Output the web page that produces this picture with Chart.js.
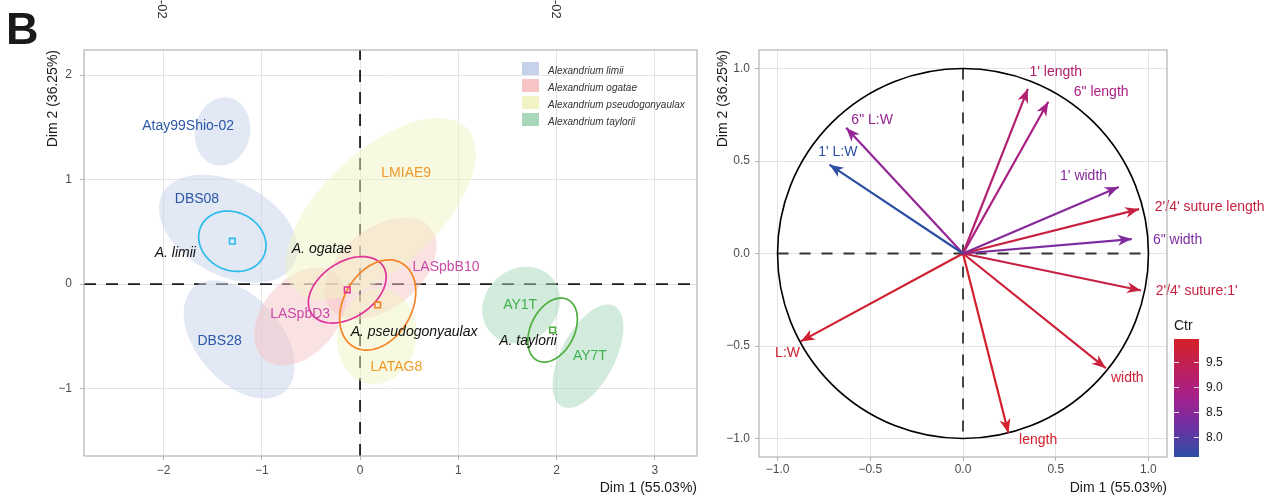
<!DOCTYPE html>
<html>
<head>
<meta charset="utf-8">
<script src="https://cdn.jsdelivr.net/npm/chart.js@4.4.1/dist/chart.umd.min.js"></script>
<style>
  body { margin: 0; background: #fff; width: 1281px; height: 503px; overflow: hidden; }
  #left { position: absolute; left: 0; top: 0; }
  #right { position: absolute; left: 705px; top: 0; }
</style>
</head>
<body>
<canvas id="left" width="705" height="503"></canvas>
<canvas id="right" width="576" height="503"></canvas>
<script>
// ---- individuals (strains), left panel ----
var strainNames = ['Atay99Shio-02', 'DBS08', 'DBS28', 'LASpbD3', 'LASpbB10', 'LMIAE9', 'LATAG8', 'AY1T', 'AY7T'];
var strainSpecies = [0, 0, 0, 1, 1, 2, 2, 3, 3];
var strainX = [-1.40, -1.34, -1.23, -0.61, 0.21, 0.21, 0.17, 1.64, 2.32];
var strainY = [1.46, 0.53, -0.53, -0.31, 0.15, 0.72, -0.50, -0.20, -0.69];
var strainEllA = [0.33, 0.75, 0.68, 0.55, 0.64, 1.17, 0.46, 0.41, 0.55];
var strainEllB = [0.28, 0.45, 0.42, 0.37, 0.39, 0.57, 0.40, 0.35, 0.27];
var strainEllAngle = [75, -25, -45, 45, 35, 40, 75, 30, 60];
var strainLabelX = [-1.75, -1.66, -1.43, -0.61, 0.875, 0.47, 0.37, 1.63, 2.34];
var strainLabelY = [1.51, 0.81, -0.55, -0.29, 0.165, 1.06, -0.79, -0.20, -0.69];

// ---- species groups ----
var speciesNames = ['Alexandrium limii', 'Alexandrium ogatae', 'Alexandrium pseudogonyaulax', 'Alexandrium taylorii'];
var speciesShort = ['A. limii', 'A. ogatae', 'A. pseudogonyaulax', 'A. taylorii'];
var speciesX = [-1.30, -0.13, 0.18, 1.96];
var speciesY = [0.41, -0.055, -0.20, -0.44];
var speciesEllA = [0.35, 0.43, 0.47, 0.33];
var speciesEllB = [0.28, 0.27, 0.34, 0.22];
var speciesEllAngle = [-20, 30, 55, 60];
var speciesLabelX = [-1.88, -0.39, 0.55, 1.71];
var speciesLabelY = [0.30, 0.33, -0.46, -0.55];

var leftXTicks = [-2, -1, 0, 1, 2, 3];
var leftYTicks = [-1, 0, 1, 2];

// ---- variables, right panel ----
var varNames = ["1' L:W", '6" L:W', "1' length", '6" length', "1' width", "2'/4' suture length", '6" width', "2'/4' suture:1'", 'width', 'length', 'L:W'];
var varX = [-0.72, -0.63, 0.35, 0.46, 0.84, 0.95, 0.91, 0.96, 0.77, 0.245, -0.875];
var varY = [0.48, 0.68, 0.89, 0.82, 0.36, 0.24, 0.078, -0.20, -0.62, -0.97, -0.475];
var varCtr = [7.55, 8.6, 9.15, 8.9, 8.45, 9.65, 8.35, 9.65, 9.75, 9.9, 9.85];
var varLabelX = [-0.675, -0.49, 0.50, 0.745, 0.65, 1.33, 1.157, 1.26, 0.886, 0.405, -0.946];
var varLabelY = [0.548, 0.72, 0.98, 0.872, 0.418, 0.25, 0.072, -0.204, -0.674, -1.008, -0.539];

var rightTicks = [-1, -0.5, 0, 0.5, 1];
var ctrTicks = [8.0, 8.5, 9.0, 9.5];
var ctrMin = 7.6, ctrMax = 9.96;

// colours
var blobColors = [[198, 209, 234], [247, 197, 197], [242, 243, 196], [168, 216, 185]];
var speciesColors = ['#2DBDEB', '#E1329A', '#F68426', '#4CAF3E'];
var strainTextColors = ['#2D58A8', '#C94BA6', '#EF9A2C', '#3DB34D'];

Chart.defaults.font.family = "'Liberation Sans', Arial, Helvetica, sans-serif";

function minusSign(s) {
    return String(s).replace('-', '\u2212');
}

function ellipsePath(ctx, xs, ys, cx, cy, a, b, angle) {
    var th = angle * Math.PI / 180;
    ctx.beginPath();
    for (var k = 0; k <= 90; k++) {
        var t = k / 90 * 2 * Math.PI;
        var dx = a * Math.cos(t), dy = b * Math.sin(t);
        var px = xs.getPixelForValue(cx + dx * Math.cos(th) - dy * Math.sin(th));
        var py = ys.getPixelForValue(cy + dx * Math.sin(th) + dy * Math.cos(th));
        if (k == 0) ctx.moveTo(px, py); else ctx.lineTo(px, py);
    }
    ctx.closePath();
}

var ctrStops = [[7.6, [44, 79, 164]], [8.3, [120, 45, 160]], [8.8, [165, 32, 140]], [9.96, [213, 32, 38]]];
function ctrColor(v) {
    if (v <= ctrStops[0][0]) return 'rgb(' + ctrStops[0][1].join(',') + ')';
    for (var i = 1; i < ctrStops.length; i++) {
        if (v <= ctrStops[i][0]) {
            var t = (v - ctrStops[i - 1][0]) / (ctrStops[i][0] - ctrStops[i - 1][0]);
            var c0 = ctrStops[i - 1][1], c1 = ctrStops[i][1];
            return 'rgb(' + [0, 1, 2].map(function (j) { return Math.round(c0[j] + t * (c1[j] - c0[j])); }).join(',') + ')';
        }
    }
    return 'rgb(' + ctrStops[ctrStops.length - 1][1].join(',') + ')';
}

function axisOpts(ticks, fmt, tickPad, title, titlePad) {
    return {
        type: 'linear',
        afterBuildTicks: function (scale) { scale.ticks = ticks.map(function (v) { return { value: v }; }); },
        ticks: { color: '#4D4D4D', font: { size: 12 }, padding: tickPad, callback: fmt, maxRotation: 0 },
        grid: { color: '#E4E4E4', lineWidth: 1, tickLength: 4, tickColor: '#B3B3B3' },
        border: { display: false },
        title: { display: true, text: title, align: 'end', color: '#1A1A1A', font: { size: 14 }, padding: titlePad }
    };
}

function drawBorder(ctx, a) {
    ctx.save();
    ctx.strokeStyle = '#B3B3B3';
    ctx.lineWidth = 1.2;
    ctx.strokeRect(a.left, a.top, a.right - a.left, a.bottom - a.top);
    ctx.restore();
}

// ---------------- left panel ----------------
var leftDecor = {
    id: 'leftDecor',
    beforeDatasetsDraw: function (chart) {
        var ctx = chart.ctx, a = chart.chartArea, xs = chart.scales.x, ys = chart.scales.y;
        ctx.save();
        ctx.beginPath();
        ctx.rect(a.left, a.top, a.right - a.left, a.bottom - a.top);
        ctx.clip();
        // reference lines
        ctx.setLineDash([12, 10]);
        ctx.lineWidth = 1.8;
        ctx.strokeStyle = '#1A1A1A';
        ctx.beginPath();
        ctx.moveTo(a.left, ys.getPixelForValue(0));
        ctx.lineTo(a.right, ys.getPixelForValue(0));
        ctx.moveTo(xs.getPixelForValue(0), a.bottom);
        ctx.lineTo(xs.getPixelForValue(0), a.top);
        ctx.stroke();
        ctx.setLineDash([]);
        // strain ellipses
        for (var i = 0; i < strainNames.length; i++) {
            var c = blobColors[strainSpecies[i]];
            ellipsePath(ctx, xs, ys, strainX[i], strainY[i], strainEllA[i], strainEllB[i], strainEllAngle[i]);
            ctx.fillStyle = 'rgba(' + c.join(',') + ',0.5)';
            ctx.fill();
        }
        // species concentration ellipses
        ctx.lineWidth = 1.7;
        for (var s = 0; s < speciesNames.length; s++) {
            ellipsePath(ctx, xs, ys, speciesX[s], speciesY[s], speciesEllA[s], speciesEllB[s], speciesEllAngle[s]);
            ctx.strokeStyle = speciesColors[s];
            ctx.stroke();
        }
        ctx.restore();
    },
    afterDatasetsDraw: function (chart) {
        var ctx = chart.ctx, a = chart.chartArea, xs = chart.scales.x, ys = chart.scales.y;
        ctx.save();
        ctx.textAlign = 'center';
        ctx.textBaseline = 'middle';
        ctx.font = "14px 'Liberation Sans', Arial, sans-serif";
        for (var i = 0; i < strainNames.length; i++) {
            ctx.fillStyle = strainTextColors[strainSpecies[i]];
            ctx.fillText(strainNames[i], xs.getPixelForValue(strainLabelX[i]), ys.getPixelForValue(strainLabelY[i]));
        }
        ctx.font = "italic 14px 'Liberation Sans', Arial, sans-serif";
        ctx.fillStyle = '#111';
        for (var s = 0; s < speciesShort.length; s++) {
            ctx.fillText(speciesShort[s], xs.getPixelForValue(speciesLabelX[s]), ys.getPixelForValue(speciesLabelY[s]));
        }
        // legend
        ctx.textAlign = 'left';
        ctx.font = "italic 10px 'Liberation Sans', Arial, sans-serif";
        for (var k = 0; k < speciesNames.length; k++) {
            var ly = a.top + 12 + k * 17;
            ctx.fillStyle = 'rgb(' + blobColors[k].join(',') + ')';
            ctx.fillRect(a.left + 438, ly, 17, 13);
            ctx.fillStyle = '#333';
            ctx.fillText(speciesNames[k], a.left + 464, ly + 9);
        }
        ctx.restore();
        drawBorder(ctx, a);
        // panel tag and stray labels at the top
        ctx.save();
        ctx.fillStyle = '#1A1A1A';
        ctx.font = "bold 45px 'Liberation Sans', Arial, sans-serif";
        ctx.textBaseline = 'alphabetic';
        ctx.fillText('B', 6, 44);
        ctx.font = "13px 'Liberation Sans', Arial, sans-serif";
        ctx.fillStyle = '#333';
        [162, 556].forEach(function (px) {
            ctx.save();
            ctx.translate(px, 0);
            ctx.rotate(Math.PI / 2);
            ctx.textBaseline = 'middle';
            ctx.fillText('-02', 0, 0);
            ctx.restore();
        });
        ctx.restore();
    }
};

var leftX = axisOpts(leftXTicks, function (v) { return minusSign(v); }, 3, 'Dim 1 (55.03%)', { top: 0, bottom: 6 });
leftX.min = -2.81; leftX.max = 3.43; leftX.position = 'bottom';
leftX.afterFit = function (scale) { scale.height = 47; };
var leftY = axisOpts(leftYTicks, function (v) { return minusSign(v); }, 8, 'Dim 2 (36.25%)', { top: 45, bottom: 0 });
leftY.min = -1.645; leftY.max = 2.24; leftY.position = 'left';
leftY.afterFit = function (scale) { scale.width = 84; };

var leftChart = new Chart(document.getElementById('left'), {
    type: 'scatter',
    data: {
        datasets: [{
            label: 'centres',
            data: speciesX.map(function (v, i) { return { x: v, y: speciesY[i] }; }),
            pointStyle: 'rect',
            pointRadius: 4,
            pointBorderWidth: 1.6,
            pointBorderColor: speciesColors,
            pointBackgroundColor: 'rgba(0,0,0,0)'
        }]
    },
    options: {
        responsive: false,
        animation: false,
        layout: { padding: { top: 50, right: 8, left: 0, bottom: 0 } },
        plugins: { legend: { display: false }, tooltip: { enabled: false } },
        scales: { x: leftX, y: leftY }
    },
    plugins: [leftDecor]
});

// ---------------- right panel ----------------
var rightDecor = {
    id: 'rightDecor',
    beforeDatasetsDraw: function (chart) {
        var ctx = chart.ctx, xs = chart.scales.x, ys = chart.scales.y;
        var cx = xs.getPixelForValue(0), cy = ys.getPixelForValue(0);
        ctx.save();
        ctx.setLineDash([11, 11]);
        ctx.lineWidth = 1.8;
        ctx.strokeStyle = '#333';
        ctx.beginPath();
        ctx.moveTo(xs.getPixelForValue(-1), cy);
        ctx.lineTo(xs.getPixelForValue(1), cy);
        ctx.moveTo(cx, ys.getPixelForValue(1));
        ctx.lineTo(cx, ys.getPixelForValue(-1));
        ctx.stroke();
        ctx.setLineDash([]);
        ctx.strokeStyle = '#000';
        ctx.lineWidth = 1.6;
        ctx.beginPath();
        ctx.ellipse(cx, cy, xs.getPixelForValue(1) - cx, cy - ys.getPixelForValue(1), 0, 0, 2 * Math.PI);
        ctx.stroke();
        ctx.restore();
    },
    afterDatasetsDraw: function (chart) {
        var ctx = chart.ctx, a = chart.chartArea, xs = chart.scales.x, ys = chart.scales.y;
        var ox = xs.getPixelForValue(0), oy = ys.getPixelForValue(0);
        ctx.save();
        // arrow heads
        for (var i = 0; i < varNames.length; i++) {
            var tx = xs.getPixelForValue(varX[i]), ty = ys.getPixelForValue(varY[i]);
            var len = Math.hypot(tx - ox, ty - oy);
            var ux = (tx - ox) / len, uy = (ty - oy) / len;
            var nx = -uy, ny = ux;
            var L = 14, W = 5.5, notch = 4;
            ctx.fillStyle = ctrColor(varCtr[i]);
            ctx.beginPath();
            ctx.moveTo(tx, ty);
            ctx.lineTo(tx - L * ux + W * nx, ty - L * uy + W * ny);
            ctx.lineTo(tx - (L - notch) * ux, ty - (L - notch) * uy);
            ctx.lineTo(tx - L * ux - W * nx, ty - L * uy - W * ny);
            ctx.closePath();
            ctx.fill();
        }
        // labels
        ctx.font = "14px 'Liberation Sans', Arial, sans-serif";
        ctx.textAlign = 'center';
        ctx.textBaseline = 'middle';
        for (var j = 0; j < varNames.length; j++) {
            ctx.fillStyle = ctrColor(varCtr[j]);
            ctx.fillText(varNames[j], xs.getPixelForValue(varLabelX[j]), ys.getPixelForValue(varLabelY[j]));
        }
        ctx.restore();
        drawBorder(ctx, a);
        // colour bar
        var bx = a.right + 7, bw = 25, bTop = 339, bBot = 457;
        var vy = function (v) { return bBot - (v - ctrMin) / (ctrMax - ctrMin) * (bBot - bTop); };
        ctx.save();
        var g = ctx.createLinearGradient(0, bBot, 0, bTop);
        for (var k = 0; k <= 20; k++) {
            var v = ctrMin + k / 20 * (ctrMax - ctrMin);
            g.addColorStop(k / 20, ctrColor(v));
        }
        ctx.fillStyle = g;
        ctx.fillRect(bx, bTop, bw, bBot - bTop);
        ctx.strokeStyle = 'rgba(255,255,255,0.85)';
        ctx.lineWidth = 1;
        ctx.font = "12px 'Liberation Sans', Arial, sans-serif";
        ctx.textAlign = 'left';
        ctx.textBaseline = 'middle';
        ctrTicks.forEach(function (v) {
            var yy = Math.round(vy(v)) + 0.5;
            ctx.beginPath();
            ctx.moveTo(bx, yy); ctx.lineTo(bx + 5, yy);
            ctx.moveTo(bx + bw - 5, yy); ctx.lineTo(bx + bw, yy);
            ctx.stroke();
            ctx.fillStyle = '#1A1A1A';
            ctx.fillText(v.toFixed(1), bx + bw + 7, yy);
        });
        ctx.font = "14px 'Liberation Sans', Arial, sans-serif";
        ctx.fillStyle = '#1A1A1A';
        ctx.fillText('Ctr', bx, bTop - 13);
        ctx.restore();
    }
};

var rightFmt = function (v) { return minusSign(Number(v).toFixed(1)); };
var rightX = axisOpts(rightTicks, rightFmt, 1, 'Dim 1 (55.03%)', { top: 0, bottom: 6 });
rightX.min = -1.1; rightX.max = 1.1; rightX.position = 'bottom';
rightX.afterFit = function (scale) { scale.height = 46; };
var rightY = axisOpts(rightTicks, rightFmt, 5, 'Dim 2 (36.25%)', { top: 10, bottom: 0 });
rightY.min = -1.1; rightY.max = 1.1; rightY.position = 'left';
rightY.afterFit = function (scale) { scale.width = 54; };

var rightChart = new Chart(document.getElementById('right'), {
    type: 'scatter',
    data: {
        datasets: varNames.map(function (name, i) {
            return {
                label: name,
                data: [{ x: 0, y: 0 }, { x: varX[i], y: varY[i] }],
                showLine: true,
                borderColor: ctrColor(varCtr[i]),
                borderWidth: 2.2,
                pointRadius: 0
            };
        })
    },
    options: {
        responsive: false,
        animation: false,
        layout: { padding: { top: 50, right: 114, left: 0, bottom: 0 } },
        plugins: { legend: { display: false }, tooltip: { enabled: false } },
        scales: { x: rightX, y: rightY }
    },
    plugins: [rightDecor]
});
</script>
</body>
</html>
